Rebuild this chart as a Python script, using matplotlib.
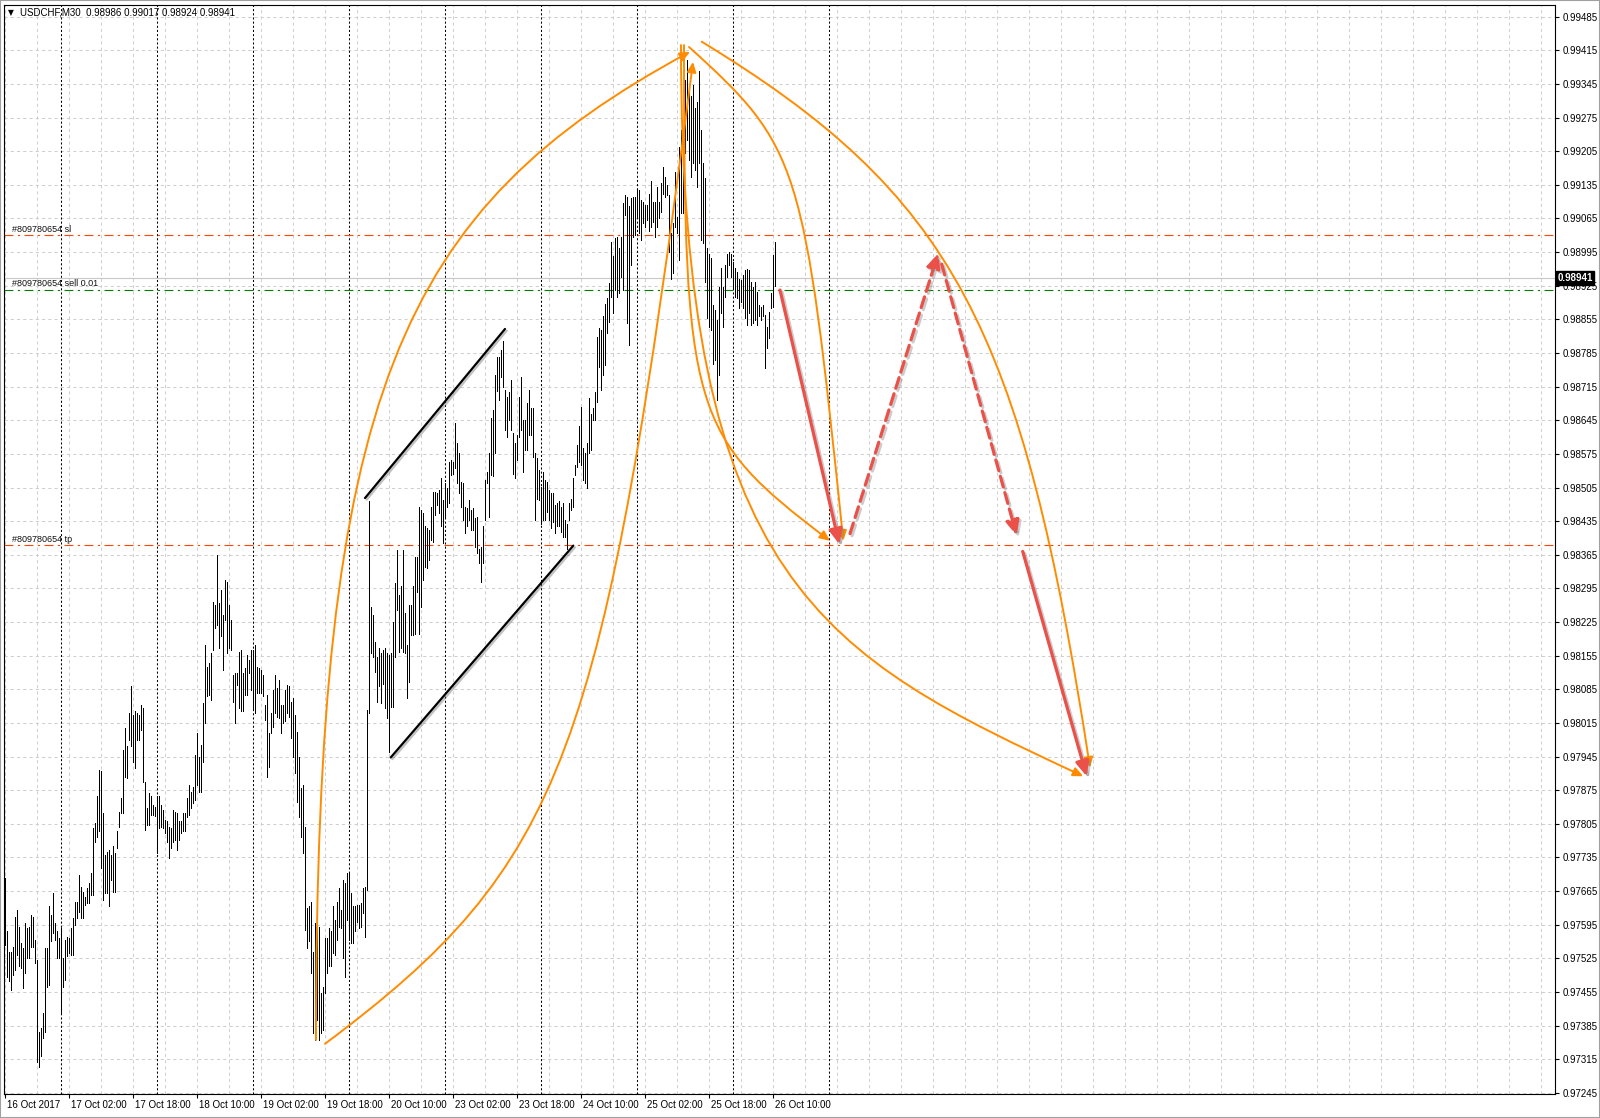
import numpy as np
import matplotlib
matplotlib.use('Agg')
import matplotlib.pyplot as plt
import matplotlib.patheffects as pe
import matplotlib.transforms as mtransforms
from matplotlib.path import Path
from matplotlib.patches import FancyArrowPatch, Rectangle

plt.rcParams['font.family'] = ['Liberation Sans', 'DejaVu Sans']

title_text = 'USDCHF,M30  0.98986 0.99017 0.98924 0.98941'

# M30 bars, bar index 0 = 16 Oct 10:00
high = [
    0.97692, 0.97581, 0.97539, 0.97539, 0.97549, 0.97612, 0.97626, 0.97591, 0.97556, 0.97546,
    0.97598, 0.97588, 0.97591, 0.97615, 0.97612, 0.97563, 0.97522, 0.97372, 0.97379, 0.97411,
    0.97546, 0.97546, 0.97633, 0.97615, 0.97660, 0.97598, 0.97581, 0.97567, 0.97588, 0.97525,
    0.97563, 0.97570, 0.97567, 0.97588, 0.97608, 0.97643, 0.97643, 0.97699, 0.97674, 0.97664,
    0.97653, 0.97671, 0.97681, 0.97702, 0.97796, 0.97806, 0.97862, 0.97917, 0.97914, 0.97827,
    0.97740, 0.97747, 0.97751, 0.97740, 0.97758, 0.97744, 0.97789, 0.97830, 0.97858, 0.97959,
    0.98004, 0.97966, 0.98035, 0.98091, 0.98032, 0.98039, 0.98035, 0.98032, 0.98052, 0.98045,
    0.97893, 0.97837, 0.97869, 0.97862, 0.97844, 0.97841, 0.97862, 0.97862, 0.97844, 0.97834,
    0.97813, 0.97810, 0.97799, 0.97796, 0.97834, 0.97830, 0.97827, 0.97810, 0.97810, 0.97827,
    0.97827, 0.97858, 0.97886, 0.97872, 0.97882, 0.97948, 0.97993, 0.97945, 0.97969, 0.98056,
    0.98177, 0.98132, 0.98139, 0.98160, 0.98267, 0.98260, 0.98365, 0.98264, 0.98292, 0.98240,
    0.98313, 0.98309, 0.98260, 0.98229, 0.98115, 0.98118, 0.98118, 0.98163, 0.98167, 0.98118,
    0.98129, 0.98156, 0.98146, 0.98167, 0.98167, 0.98177, 0.98132, 0.98129, 0.98125, 0.98115,
    0.98052, 0.98073, 0.97993, 0.98035, 0.98084, 0.98115, 0.98087, 0.98104, 0.98052, 0.98052,
    0.98084, 0.98094, 0.98091, 0.98059, 0.98066, 0.98032, 0.97997, 0.97945, 0.97879, 0.97886,
    0.97799, 0.97629, 0.97633, 0.97643, 0.97539, 0.97598, 0.97594, 0.97591, 0.97452, 0.97466,
    0.97567, 0.97567, 0.97588, 0.97581, 0.97633, 0.97605, 0.97643, 0.97671, 0.97626, 0.97688,
    0.97681, 0.97702, 0.97702, 0.97660, 0.97633, 0.97633, 0.97636, 0.97636, 0.97640, 0.97671,
    0.97674, 0.98042, 0.98476, 0.98257, 0.98240, 0.98184, 0.98153, 0.98170, 0.98160, 0.98167,
    0.98170, 0.98160, 0.98156, 0.98160, 0.98226, 0.98306, 0.98375, 0.98281, 0.98299, 0.98375,
    0.98243, 0.98177, 0.98260, 0.98260, 0.98299, 0.98361, 0.98361, 0.98465, 0.98458, 0.98451,
    0.98424, 0.98420, 0.98417, 0.98465, 0.98496, 0.98496, 0.98493, 0.98500, 0.98524, 0.98479,
    0.98514, 0.98503, 0.98559, 0.98562, 0.98559, 0.98639, 0.98597, 0.98576, 0.98517, 0.98514,
    0.98465, 0.98462, 0.98479, 0.98458, 0.98462, 0.98441, 0.98444, 0.98378, 0.98382, 0.98424,
    0.98521, 0.98538, 0.98576, 0.98649, 0.98666, 0.98739, 0.98777, 0.98777, 0.98791, 0.98809,
    0.98708, 0.98694, 0.98704, 0.98729, 0.98618, 0.98597, 0.98614, 0.98694, 0.98736, 0.98646,
    0.98646, 0.98680, 0.98708, 0.98670, 0.98670, 0.98576, 0.98566, 0.98541, 0.98507, 0.98538,
    0.98521, 0.98517, 0.98500, 0.98493, 0.98493, 0.98469, 0.98472, 0.98476, 0.98465, 0.98472,
    0.98437, 0.98430, 0.98472, 0.98482, 0.98524, 0.98552, 0.98593, 0.98632, 0.98673, 0.98587,
    0.98576, 0.98597, 0.98691, 0.98659, 0.98670, 0.98704, 0.98819, 0.98836, 0.98833, 0.98861,
    0.98888, 0.98899, 0.98930, 0.99017, 0.98986, 0.99024, 0.99027, 0.99003, 0.99027, 0.99097,
    0.99114, 0.99110, 0.99090, 0.99107, 0.99110, 0.99110, 0.99124, 0.99124, 0.99103, 0.99100,
    0.99093, 0.99093, 0.99117, 0.99142, 0.99100, 0.99100, 0.99131, 0.99100, 0.99138, 0.99173,
    0.99152, 0.99135, 0.99114, 0.99034, 0.99055, 0.99162, 0.99069, 0.99214, 0.99249, 0.99228,
    0.99353, 0.99395, 0.99339, 0.99319, 0.99343, 0.99294, 0.99308, 0.99371, 0.99250, 0.99180,
    0.99150, 0.99003, 0.98992, 0.98982, 0.98885, 0.98874, 0.98854, 0.98923, 0.98961, 0.98923,
    0.98968, 0.98992, 0.98996, 0.98992, 0.98975, 0.98961, 0.98954, 0.98940, 0.98937, 0.98947,
    0.98958, 0.98959, 0.98958, 0.98933, 0.98923, 0.98933, 0.98913, 0.98885, 0.98881, 0.98885,
    0.98864, 0.98840, 0.98871, 0.98909, 0.98989, 0.99017,
]
low = [
    0.97553, 0.97487, 0.97477, 0.97459, 0.97490, 0.97501, 0.97532, 0.97508, 0.97504, 0.97463,
    0.97494, 0.97525, 0.97525, 0.97549, 0.97549, 0.97515, 0.97310, 0.97298, 0.97322, 0.97359,
    0.97372, 0.97466, 0.97470, 0.97560, 0.97577, 0.97563, 0.97525, 0.97525, 0.97411, 0.97466,
    0.97480, 0.97529, 0.97536, 0.97532, 0.97532, 0.97594, 0.97608, 0.97622, 0.97608, 0.97608,
    0.97636, 0.97640, 0.97640, 0.97657, 0.97657, 0.97768, 0.97778, 0.97789, 0.97712, 0.97647,
    0.97660, 0.97660, 0.97633, 0.97688, 0.97664, 0.97664, 0.97754, 0.97799, 0.97827, 0.97827,
    0.97903, 0.97900, 0.97980, 0.97966, 0.97934, 0.97921, 0.97980, 0.97980, 0.98000, 0.97893,
    0.97792, 0.97803, 0.97803, 0.97823, 0.97823, 0.97821, 0.97744, 0.97796, 0.97799, 0.97796,
    0.97785, 0.97768, 0.97733, 0.97754, 0.97768, 0.97771, 0.97751, 0.97771, 0.97785, 0.97789,
    0.97789, 0.97820, 0.97823, 0.97837, 0.97848, 0.97855, 0.97886, 0.97872, 0.97872, 0.97934,
    0.98014, 0.98070, 0.98073, 0.98063, 0.98167, 0.98212, 0.98219, 0.98170, 0.98195, 0.98125,
    0.98229, 0.98160, 0.98170, 0.98167, 0.98059, 0.98014, 0.98094, 0.98045, 0.98039, 0.98039,
    0.98073, 0.98073, 0.98118, 0.98084, 0.98042, 0.98035, 0.98077, 0.98077, 0.98077, 0.98070,
    0.98021, 0.97903, 0.97924, 0.97993, 0.98007, 0.98035, 0.98028, 0.98025, 0.97993, 0.98014,
    0.98018, 0.98035, 0.98028, 0.97983, 0.97945, 0.97910, 0.97851, 0.97820, 0.97778, 0.97744,
    0.97584, 0.97546, 0.97560, 0.97494, 0.97369, 0.97355, 0.97397, 0.97355, 0.97369, 0.97376,
    0.97452, 0.97494, 0.97508, 0.97508, 0.97536, 0.97532, 0.97563, 0.97591, 0.97588, 0.97525,
    0.97487, 0.97605, 0.97563, 0.97556, 0.97556, 0.97581, 0.97601, 0.97588, 0.97591, 0.97619,
    0.97570, 0.97667, 0.98035, 0.98160, 0.98153, 0.98122, 0.98059, 0.98091, 0.98056, 0.98097,
    0.98045, 0.98025, 0.97955, 0.98049, 0.98049, 0.98153, 0.98250, 0.98163, 0.98170, 0.98163,
    0.98160, 0.98066, 0.98101, 0.98198, 0.98198, 0.98201, 0.98288, 0.98201, 0.98257, 0.98312,
    0.98340, 0.98337, 0.98354, 0.98396, 0.98392, 0.98448, 0.98469, 0.98451, 0.98424, 0.98389,
    0.98444, 0.98465, 0.98472, 0.98531, 0.98534, 0.98545, 0.98514, 0.98493, 0.98465, 0.98437,
    0.98410, 0.98424, 0.98437, 0.98417, 0.98417, 0.98382, 0.98368, 0.98347, 0.98309, 0.98347,
    0.98437, 0.98514, 0.98444, 0.98531, 0.98528, 0.98576, 0.98705, 0.98687, 0.98736, 0.98715,
    0.98625, 0.98611, 0.98646, 0.98625, 0.98534, 0.98524, 0.98562, 0.98611, 0.98625, 0.98538,
    0.98583, 0.98583, 0.98614, 0.98614, 0.98569, 0.98437, 0.98482, 0.98479, 0.98430, 0.98437,
    0.98437, 0.98455, 0.98437, 0.98420, 0.98434, 0.98410, 0.98424, 0.98424, 0.98413, 0.98403,
    0.98403, 0.98378, 0.98437, 0.98458, 0.98465, 0.98531, 0.98548, 0.98559, 0.98552, 0.98521,
    0.98514, 0.98503, 0.98576, 0.98583, 0.98645, 0.98645, 0.98684, 0.98756, 0.98708, 0.98739,
    0.98760, 0.98826, 0.98850, 0.98902, 0.98868, 0.98916, 0.98902, 0.98909, 0.98944, 0.98916,
    0.99072, 0.98847, 0.98802, 0.98968, 0.99027, 0.99031, 0.99069, 0.99034, 0.99020, 0.99055,
    0.99048, 0.99062, 0.99038, 0.99048, 0.99058, 0.99027, 0.99048, 0.99065, 0.99079, 0.99117,
    0.99110, 0.99114, 0.98996, 0.98940, 0.98951, 0.99048, 0.99034, 0.98979, 0.99076, 0.99076,
    0.99201, 0.99228, 0.99187, 0.99152, 0.99180, 0.99166, 0.99131, 0.99180, 0.99020, 0.99013,
    0.98933, 0.98857, 0.98840, 0.98833, 0.98763, 0.98770, 0.98687, 0.98739, 0.98868, 0.98840,
    0.98902, 0.98944, 0.98968, 0.98944, 0.98920, 0.98902, 0.98899, 0.98878, 0.98892, 0.98878,
    0.98857, 0.98843, 0.98868, 0.98843, 0.98847, 0.98854, 0.98843, 0.98861, 0.98854, 0.98861,
    0.98753, 0.98795, 0.98816, 0.98878, 0.98881, 0.98924,
]

time_labels = ['16 Oct 2017', '17 Oct 02:00', '17 Oct 18:00', '18 Oct 10:00', '19 Oct 02:00',
               '19 Oct 18:00', '20 Oct 10:00', '23 Oct 02:00', '23 Oct 18:00', '24 Oct 10:00',
               '25 Oct 02:00', '25 Oct 18:00', '26 Oct 10:00']
label_bars = [0, 32, 64, 96, 128, 160, 192, 224, 256, 288, 320, 352, 384]
day_breaks = [28, 76, 124, 172, 220, 268, 316, 364, 412]

price_ticks = [0.99485, 0.99415, 0.99345, 0.99275, 0.99205, 0.99135, 0.99065, 0.98995,
               0.98925, 0.98855, 0.98785, 0.98715, 0.98645, 0.98575, 0.98505, 0.98435,
               0.98365, 0.98295, 0.98225, 0.98155, 0.98085, 0.98015, 0.97945, 0.97875,
               0.97805, 0.97735, 0.97665, 0.97595, 0.97525, 0.97455, 0.97385, 0.97315, 0.97245]

order_id = '#809780654'
sl_price = 0.99030
open_price = 0.98917
tp_price = 0.98385
bid_price = 0.98941

# channel lines (bar index, price)
channel_top = ([179.85, 249.85], [0.98483, 0.98835])
channel_bot = ([192.7, 284.0], [0.97943, 0.98384])

# forecast arrows: start bar, start price, end bar, end price, dashed
red_arrows = [
    (387.35, 0.98916, 417.0, 0.98387, False),
    (422.35, 0.98409, 466.5, 0.98993, True),
    (468.2, 0.98970, 505.7, 0.98405, True),
    (508.7, 0.98372, 540.7, 0.97904, False),
]

# orange arcs as cubic curves (bar index, price), arrow at the last point
arcs = [
    [(155.35, 0.97355), (155.35, 0.98708), (197.35, 0.99085), (342.35, 0.99412)],
    [(159.85, 0.97347), (279.85, 0.97721), (299.05, 0.97945), (343.85, 0.99391)],
    [(339.35, 0.99426), (339.35, 0.98656), (342.95, 0.98613), (412.35, 0.98394)],
    [(341.85, 0.99422), (397.1, 0.99214), (399.4, 0.99183), (419.0, 0.98394)],
    [(337.85, 0.99426), (337.85, 0.98302), (409.9, 0.98154), (539.0, 0.97904)],
    [(348.2, 0.99433), (473.5, 0.99115), (508.4, 0.98844), (542.35, 0.97922)],
]

fig = plt.figure(figsize=(16, 11.18), dpi=100)
ax = fig.add_axes([4 / 1600, 24.5 / 1118, 1551.3 / 1600, 1088.8 / 1118])
ax.set_xlim(-0.65, 775.0)
ax.set_ylim(0.972436, 0.99510)

# grid
grid_kw = dict(color='#cfcfcf', lw=0.75, ls=(0, (3, 3)), zorder=0)
for p in price_ticks:
    ax.axhline(p, **grid_kw)
for b in range(0, 776, 16):
    ax.axvline(b, **grid_kw)
for d in day_breaks:
    ax.axvline(d, color='black', lw=0.75, ls=(0, (2, 2)), zorder=1)

# order lines
ax.axhline(bid_price, color='#c8c8c8', lw=0.8, zorder=1)
ax.axhline(sl_price, color='#ff4500', lw=0.8, ls=(0, (8, 4, 2, 4)), zorder=2)
ax.axhline(tp_price, color='#ff4500', lw=0.8, ls=(0, (8, 4, 2, 4)), zorder=2)
ax.axhline(open_price, color='#008000', lw=0.8, ls=(0, (8, 4, 2, 4)), zorder=2)
lab_kw = dict(fontsize=6.5, color='#101010', va='bottom', ha='left')
ax.text(3.3, sl_price + 0.00003, order_id + ' sl', **lab_kw)
ax.text(3.3, open_price + 0.00003, order_id + ' sell 0.01', **lab_kw)
ax.text(3.3, tp_price + 0.00003, order_id + ' tp', **lab_kw)

# bars
idx = np.arange(len(high))
ax.vlines(idx, low, high, color='black', lw=0.72, antialiased=False, zorder=3)

# channel
shadow = [pe.SimpleLineShadow(offset=(1.2, -1.2), shadow_color='#777777', alpha=0.45), pe.Normal()]
for xs, ys in (channel_top, channel_bot):
    ax.plot(xs, ys, color='black', lw=1.6, solid_capstyle='round', zorder=4, path_effects=shadow)

# orange arcs
codes = [Path.MOVETO, Path.CURVE4, Path.CURVE4, Path.CURVE4]
for pts in arcs:
    arc = FancyArrowPatch(path=Path(pts, codes), arrowstyle='-|>,head_length=1.0,head_width=0.45',
                          mutation_scale=6, color='#ff8c00', lw=1.4, zorder=5)
    ax.add_patch(arc)

# red forecast arrows
red_shadow = [pe.SimpleLineShadow(offset=(1.5, -1.5), shadow_color='#808080', alpha=0.4), pe.Normal()]
for x0, y0, x1, y1, dashed in red_arrows:
    arr = FancyArrowPatch((x0, y0), (x1, y1), arrowstyle='-|>,head_length=1.1,head_width=0.5',
                          mutation_scale=8, color='#eb5148', lw=2.3, shrinkA=0, shrinkB=0,
                          ls=(0, (3.5, 1.8)) if dashed else '-', zorder=6, path_effects=red_shadow)
    ax.add_patch(arr)

# axes styling
for s in ax.spines.values():
    s.set_color('black')
    s.set_linewidth(0.8)
ax.yaxis.tick_right()
ax.set_yticks(price_ticks)
ax.set_yticklabels([f'{p:.5f}' for p in price_ticks])
ax.tick_params(axis='y', length=3, width=0.8, pad=2, labelsize=7, direction='out')
ax.set_xticks(label_bars)
ax.set_xticklabels(time_labels)
ax.tick_params(axis='x', length=3, width=0.8, pad=2, labelsize=7, direction='out')
for t in ax.get_xticklabels():
    t.set_horizontalalignment('left')
    t.set_transform(t.get_transform() + mtransforms.ScaledTranslation(2 / 100, 0, fig.dpi_scale_trans))

# current bid box
blend = mtransforms.blended_transform_factory(ax.transAxes, ax.transData)
ax.text(1.0013, bid_price, f'{bid_price:.5f}', transform=blend, fontsize=7, color='white',
        va='center', ha='left', fontweight='bold',
        bbox=dict(facecolor='black', edgecolor='black', pad=1.2), zorder=10, clip_on=False)

# header
fig.text(8 / 1600, 1 - 12.7 / 1118, '\u25bc', fontsize=5.5, va='center', ha='left', family=['DejaVu Sans'])
fig.text(20 / 1600, 1 - 12.7 / 1118, title_text, fontsize=7, va='center', ha='left')

fig.patches.append(Rectangle((0, 0), 1, 1, transform=fig.transFigure, fill=False,
                             edgecolor='#a0a0a0', lw=1.5))

plt.savefig('out.png', dpi=100)
